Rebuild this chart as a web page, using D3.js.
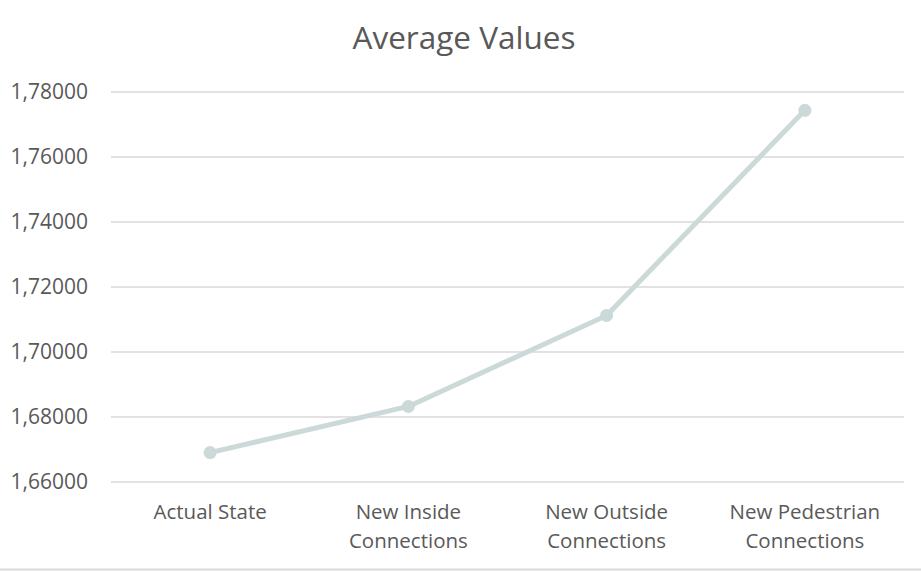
<!DOCTYPE html>
<html><head><meta charset="utf-8">
<script src="https://cdn.jsdelivr.net/npm/d3@7"></script>
<style>body{margin:0;background:#fff}svg{display:block}</style>
</head><body>
<script>
const categories = [["Actual State"], ["New Inside", "Connections"], ["New Outside", "Connections"], ["New Pedestrian", "Connections"]];
const values = [1.6689, 1.6831, 1.7111, 1.7742];
const yTicks = [1.66, 1.68, 1.70, 1.72, 1.74, 1.76, 1.78];
const title = "Average Values";

(function () {
const W = 921, H = 571;
const FONT = "'Open Sans',sans-serif";
const svg = d3.select("body").append("svg").attr("width", W).attr("height", H);
const pL = 111, pR = 904, pT = 91.5, pB = 481.5;
const x = d3.scaleBand().domain(d3.range(categories.length)).range([pL, pR]);
const y = d3.scaleLinear().domain([1.66, 1.78]).range([pB, pT]);

svg.append("text").attr("x", 464).attr("y", 49).attr("text-anchor", "middle")
  .attr("font-size", 31.5).attr("fill", "#595959")
  .style("font-family", FONT).text(title);

const yAxis = d3.axisLeft(y).tickValues(yTicks).tickSize(-(pR - pL))
  .tickFormat(d => d3.format(".5f")(d).replace(".", ","));
const gy = svg.append("g").attr("transform", `translate(${pL},0)`).call(yAxis);
gy.select(".domain").remove();
gy.selectAll(".tick line").attr("stroke", "#d9d9d9").attr("stroke-width", 1.5);
gy.selectAll(".tick text").attr("x", -23).attr("fill", "#595959")
  .style("font-family", FONT).attr("font-size", 21);

const xAxis = d3.axisBottom(x).tickSize(0).tickFormat(() => "");
const gx = svg.append("g").attr("transform", `translate(0,${pB})`).call(xAxis);
gx.select(".domain").remove();
gx.selectAll(".tick").each(function (d) {
  const t = d3.select(this).append("text").attr("text-anchor", "middle").attr("fill", "#595959")
    .style("font-family", FONT).attr("font-size", 20.5);
  categories[d].forEach((line, i) => {
    t.append("tspan").attr("x", 0).attr("y", 37 + i * 29).text(line);
  });
});

const cx = i => x(i) + x.bandwidth() / 2;
svg.append("path").datum(values)
  .attr("d", d3.line().x((d, i) => cx(i)).y(d => y(d)))
  .attr("fill", "none").attr("stroke", "#cbdad8").attr("stroke-width", 5).attr("stroke-linejoin", "round");
svg.selectAll("circle.pt").data(values).join("circle").attr("class", "pt")
  .attr("cx", (d, i) => cx(i)).attr("cy", d => y(d)).attr("r", 6.5).attr("fill", "#cbdad8");

svg.append("line").attr("x1", 0).attr("x2", W).attr("y1", 569.5).attr("y2", 569.5)
  .attr("stroke", "#d9d9d9").attr("stroke-width", 2);
})();
</script>
</body></html>
